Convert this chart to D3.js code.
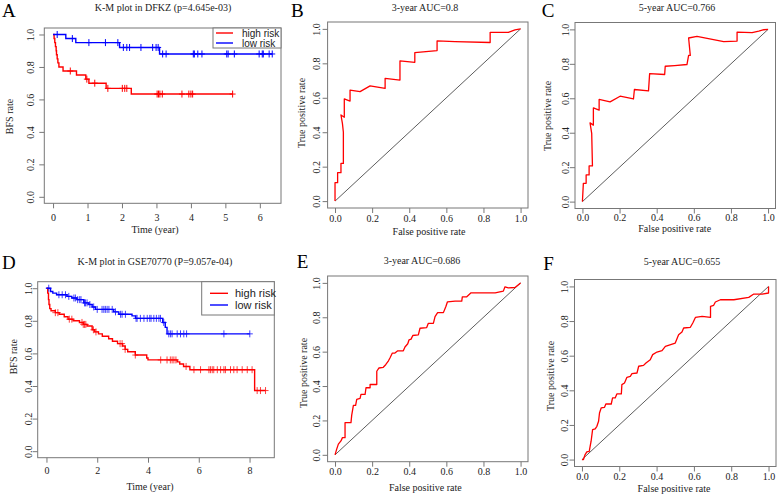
<!DOCTYPE html>
<html><head><meta charset="utf-8">
<script src="https://cdn.jsdelivr.net/npm/d3@7"></script>
<style>body{margin:0;background:#fff}</style>
</head><body>
<svg id="c" width="777" height="494" xmlns="http://www.w3.org/2000/svg"></svg>
<script>
// ---------------- DATA ----------------
const panelLetters = ["A","B","C","D","E","F"];
const panelTitles = ["K-M plot in DFKZ (p=4.645e-03)","3-year AUC=0.8","5-year AUC=0.766",
                     "K-M plot in GSE70770 (P=9.057e-04)","3-year AUC=0.686","5-year AUC=0.655"];
const legendLabels = ["high risk","low risk"];
const kmXTitle = "Time (year)", kmYTitle = "BFS rate";
const rocXTitle = "False positive rate", rocYTitle = "True positive rate";
const timeTicksA = [0,1,2,3,4,5,6];
const timeTicksD = [0,2,4,6,8];
const rateTicks = [0,0.2,0.4,0.6,0.8,1.0];
const diagonal = [[0,0],[1,1]];

// K-M, DFKZ: steps [time, survival], last time, censor times
const kmA_high = [[0,1],[0.03,0.975],[0.05,0.95],[0.07,0.925],[0.09,0.9],[0.1,0.875],[0.12,0.85],[0.14,0.825],[0.17,0.8],[0.29,0.775],[0.68,0.75],[0.95,0.725],[1.04,0.70],[1.54,0.668],[2.27,0.633]];
const kmA_highEnd = 5.21;
const kmA_highCens = [0.5,0.98,1.21,1.59,2.01,2.08,2.14,3.02,3.06,3.1,3.17,3.74,3.94,4.0,4.05,5.21];
const kmA_low = [[0,1],[0.37,0.975],[0.66,0.95],[1.93,0.92],[3.09,0.88]];
const kmA_lowEnd = 6.36;
const kmA_lowCens = [0.12,0.56,1.04,1.52,1.88,2.04,2.14,2.22,2.55,2.89,2.99,3.05,3.18,3.28,4.07,4.1,4.2,4.32,5.04,5.08,5.26,5.98,6.07,6.1,6.27,6.36];

// K-M, GSE70770
const kmD_high = [[0,1],[0.05,0.97],[0.08,0.93],[0.1,0.9],[0.13,0.875],[0.18,0.862],[0.35,0.85],[0.5,0.84],[0.7,0.825],[0.85,0.81],[1.05,0.80],[1.3,0.79],[1.45,0.778],[1.6,0.768],[1.8,0.745],[1.9,0.732],[2.05,0.72],[2.2,0.705],[2.45,0.69],[2.6,0.675],[2.8,0.66],[3.0,0.645],[3.1,0.625],[3.2,0.61],[3.5,0.59],[3.95,0.572],[4.0,0.56],[5.15,0.548],[5.25,0.535],[5.4,0.52],[5.65,0.50],[8.2,0.372]];
const kmD_highEnd = 8.63;
const kmD_highCens = [0.35,0.45,0.9,1.0,1.4,1.45,1.5,1.55,1.85,1.95,2.9,2.98,3.1,3.5,4.5,4.75,4.88,4.95,5.02,5.1,5.5,5.81,6.07,6.4,6.46,6.53,6.59,6.73,6.86,6.99,7.05,7.25,7.38,7.51,7.71,7.91,8.1,8.3,8.43,8.63];
const kmD_low = [[0,1],[0.16,0.98],[0.25,0.97],[0.4,0.96],[0.81,0.95],[1.0,0.94],[1.2,0.93],[1.47,0.91],[1.67,0.9],[1.8,0.885],[1.93,0.87],[2.65,0.855],[2.85,0.84],[3.37,0.83],[3.51,0.815],[4.58,0.79],[4.68,0.76],[4.75,0.72]];
const kmD_lowEnd = 8.01;
const kmD_lowCens = [0.09,0.49,0.62,0.75,0.88,1.08,1.14,1.23,1.31,1.36,1.5,1.54,1.6,1.71,1.86,2.0,2.19,2.26,2.32,2.39,2.46,2.59,2.72,2.92,2.98,3.11,3.53,3.57,3.7,3.84,3.97,4.07,4.12,4.23,4.33,4.43,4.49,4.62,4.82,4.89,4.95,5.15,5.28,5.41,5.52,6.99,8.01];

// ROC curves [FPR, TPR]
const rocB = [[0,0],[0,0.107],[0.014,0.107],[0.014,0.165],[0.032,0.165],[0.032,0.219],[0.045,0.219],[0.045,0.40],[0.04,0.45],[0.032,0.50],[0.05,0.487],[0.05,0.593],[0.081,0.581],[0.081,0.645],[0.135,0.636],[0.189,0.669],[0.27,0.655],[0.27,0.713],[0.35,0.703],[0.35,0.814],[0.43,0.806],[0.43,0.862],[0.49,0.868],[0.55,0.874],[0.55,0.93],[0.647,0.926],[0.836,0.921],[0.836,0.98],[0.934,0.98],[0.97,0.994],[1,1]];
const rocC = [[0,0],[0.005,0.106],[0.02,0.106],[0.02,0.155],[0.036,0.155],[0.036,0.207],[0.054,0.207],[0.05,0.396],[0.041,0.457],[0.059,0.444],[0.059,0.544],[0.09,0.531],[0.09,0.593],[0.149,0.579],[0.203,0.612],[0.275,0.596],[0.28,0.651],[0.356,0.643],[0.362,0.743],[0.443,0.738],[0.446,0.786],[0.497,0.79],[0.563,0.796],[0.572,0.849],[0.581,0.849],[0.572,0.95],[0.617,0.959],[0.761,0.929],[0.833,0.932],[0.833,0.984],[0.914,0.981],[0.95,0.99],[0.977,0.998],[1,1]];
const rocE = [[0,0],[0.009,0.033],[0.018,0.062],[0.032,0.081],[0.04,0.1],[0.054,0.1],[0.054,0.187],[0.086,0.187],[0.09,0.231],[0.099,0.287],[0.111,0.287],[0.117,0.322],[0.135,0.328],[0.14,0.351],[0.162,0.351],[0.167,0.39],[0.189,0.39],[0.189,0.409],[0.225,0.409],[0.225,0.486],[0.237,0.505],[0.26,0.509],[0.273,0.524],[0.288,0.547],[0.296,0.563],[0.309,0.592],[0.323,0.592],[0.338,0.605],[0.368,0.605],[0.377,0.627],[0.392,0.646],[0.399,0.669],[0.41,0.673],[0.419,0.694],[0.449,0.698],[0.458,0.736],[0.494,0.74],[0.503,0.765],[0.53,0.765],[0.539,0.804],[0.553,0.827],[0.584,0.827],[0.597,0.861],[0.606,0.89],[0.647,0.894],[0.683,0.894],[0.686,0.919],[0.71,0.919],[0.733,0.942],[0.863,0.942],[0.907,0.952],[0.916,0.977],[0.934,0.971],[0.97,0.973],[1,1]];
const rocF = [[0,0],[0.008,0.0],[0.017,0.029],[0.026,0.044],[0.039,0.048],[0.044,0.077],[0.049,0.106],[0.057,0.173],[0.071,0.177],[0.08,0.192],[0.089,0.221],[0.094,0.269],[0.103,0.298],[0.121,0.302],[0.128,0.321],[0.157,0.321],[0.164,0.356],[0.178,0.356],[0.187,0.379],[0.211,0.379],[0.214,0.433],[0.228,0.442],[0.241,0.475],[0.259,0.481],[0.268,0.496],[0.295,0.5],[0.304,0.539],[0.33,0.544],[0.343,0.558],[0.366,0.577],[0.379,0.606],[0.402,0.621],[0.429,0.629],[0.447,0.654],[0.5,0.673],[0.518,0.721],[0.536,0.737],[0.545,0.76],[0.581,0.764],[0.594,0.789],[0.608,0.821],[0.644,0.827],[0.689,0.821],[0.689,0.885],[0.706,0.891],[0.715,0.91],[0.742,0.923],[0.814,0.923],[0.894,0.937],[0.921,0.956],[0.966,0.956],[1.0,0.962],[1.0,1.0]];

// ---------------- DRAW ----------------
const svg = d3.select("#c");
const SERIF = "'Liberation Serif','Times New Roman',serif";
const SANS = "'Liberation Sans',Arial,sans-serif";
const RED = "#ff0000", BLUE = "#0000ff", FRAME = "#777";
const f1 = d3.format(".1f");

function panel(L){
  const x = d3.scaleLinear().domain(L.xd).range([L.box[0], L.box[1]]);
  const y = d3.scaleLinear().domain([-0.04,1.04]).range([L.box[3], L.box[2]]);
  const g = svg.append("g");
  // x axis
  const gx = g.append("g").attr("transform", `translate(0,${L.box[3]})`)
    .call(d3.axisBottom(x).tickValues(L.xt).tickSize(5).tickFormat(L.xf));
  gx.select(".domain").remove();
  gx.selectAll("line").attr("stroke", FRAME);
  gx.selectAll("text").attr("y", L.xLabY - L.box[3]).attr("dy","0.35em")
    .attr("fill","#222").style("font-family", SERIF).style("font-size","10px");
  // y axis
  const gy = g.append("g").attr("transform", `translate(${L.box[0]},0)`)
    .call(d3.axisLeft(y).tickValues(rateTicks).tickSize(5).tickFormat(f1));
  gy.select(".domain").remove();
  gy.selectAll("line").attr("stroke", FRAME);
  gy.selectAll("text").attr("x",0).attr("y",0).attr("dy","0.35em")
    .attr("transform", `translate(${L.yLabX - L.box[0]},0) rotate(-90)`)
    .attr("text-anchor","middle").attr("fill","#222")
    .style("font-family", SERIF).style("font-size","10px");
  // frame
  g.append("rect").attr("x",L.box[0]).attr("y",L.box[2])
    .attr("width",L.box[1]-L.box[0]).attr("height",L.box[3]-L.box[2])
    .attr("fill","none").attr("stroke",FRAME).attr("stroke-width",1);
  // titles
  g.append("text").attr("x",L.titleX).attr("y",L.titleY).attr("text-anchor","middle")
    .attr("fill","#222").style("font-family",SERIF).style("font-size","10px").text(L.title);
  g.append("text").attr("x",L.xTitleX).attr("y",L.xTitleY).attr("dy","0.35em").attr("text-anchor","middle")
    .attr("fill","#222").style("font-family",SERIF).style("font-size","10px").text(L.xTitle);
  g.append("text").attr("transform",`translate(${L.yTitleX},${L.yTitleY}) rotate(-90)`)
    .attr("dy","0.35em").attr("text-anchor","middle")
    .attr("fill","#222").style("font-family",SERIF).style("font-size","10px").text(L.yTitle);
  g.append("text").attr("x",L.letter[0]).attr("y",L.letter[1])
    .attr("fill","#000").style("font-family",SERIF).style("font-size","19px").text(L.letterText);
  return {g,x,y};
}

function kmCurve(P, steps, end, cens, color, op){
  const pts = steps.concat([[end, steps[steps.length-1][1]]]);
  const line = d3.line().x(d=>P.x(d[0])).y(d=>P.y(d[1])).curve(d3.curveStepAfter);
  P.g.append("path").attr("d", line(pts)).attr("fill","none").attr("stroke",color).attr("stroke-width",1.4);
  const surv = t => { let s = steps[0][1]; for (const d of steps) { if (d[0] <= t) s = d[1]; } return s; };
  const cg = P.g.append("g").attr("stroke",color).attr("stroke-width",1).attr("opacity",op);
  cens.forEach(t => {
    const cx = P.x(t), cy = P.y(surv(t));
    cg.append("line").attr("x1",cx).attr("x2",cx).attr("y1",cy-3.5).attr("y2",cy+3.5);
    cg.append("line").attr("x1",cx-3).attr("x2",cx+3).attr("y1",cy).attr("y2",cy);
  });
}

function legend(P, b, lx, ly, tx, fs){
  P.g.append("rect").attr("x",b[0]).attr("y",b[2]).attr("width",b[1]-b[0]).attr("height",b[3]-b[2])
    .attr("fill","#fff").attr("stroke",FRAME);
  [RED, BLUE].forEach((c,i) => {
    P.g.append("line").attr("x1",lx[0]).attr("x2",lx[1]).attr("y1",ly[i]).attr("y2",ly[i])
      .attr("stroke",c).attr("stroke-width",1.4);
    P.g.append("text").attr("x",tx).attr("y",ly[i]).attr("dy","0.35em").attr("fill","#222")
      .style("font-family",SANS).style("font-size",fs+"px").text(legendLabels[i]);
  });
}

function roc(P, pts){
  const line = d3.line().x(d=>P.x(d[0])).y(d=>P.y(d[1]));
  P.g.append("path").attr("d", line(diagonal)).attr("fill","none").attr("stroke","#333").attr("stroke-width",0.8);
  P.g.append("path").attr("d", line(pts)).attr("fill","none").attr("stroke",RED).attr("stroke-width",1.3)
    .attr("stroke-linejoin","round");
}

const rocX = [-0.04,1.04];
const fInt = d3.format("d");

// A
const A = panel({box:[44.3,281,28,203.3], xd:[-0.254,6.614], xt:timeTicksA, xf:fInt,
  xLabY:217.7, xTitleX:155, xTitleY:229, xTitle:kmXTitle, yLabX:30, yTitleX:9, yTitleY:116.5, yTitle:kmYTitle,
  titleX:163, titleY:10.5, title:panelTitles[0], letter:[2,17], letterText:panelLetters[0]});
kmCurve(A, kmA_high, kmA_highEnd, kmA_highCens, RED, 1);
kmCurve(A, kmA_low, kmA_lowEnd, kmA_lowCens, BLUE, 1);
legend(A, [213,281,28,48], [216,233], [33,43], 242, 10);

// B
const B = panel({box:[327.6,528,22,208], xd:rocX, xt:rateTicks, xf:f1,
  xLabY:218, xTitleX:429, xTitleY:231, xTitle:rocXTitle, yLabX:316.7, yTitleX:301.7, yTitleY:113, yTitle:rocYTitle,
  titleX:425, titleY:10.5, title:panelTitles[1], letter:[291,17], letterText:panelLetters[1]});
roc(B, rocB);

// C
const C = panel({box:[575,775.5,22.5,208.5], xd:rocX, xt:rateTicks, xf:f1,
  xLabY:217.7, xTitleX:674.7, xTitleY:228, xTitle:rocXTitle, yLabX:565, yTitleX:547.7, yTitleY:116, yTitle:rocYTitle,
  titleX:677, titleY:10.5, title:panelTitles[2], letter:[541.7,17], letterText:panelLetters[2]});
roc(C, rocC);

// D
const D = panel({box:[37.7,274.3,281.7,457.7], xd:[-0.345,8.975], xt:timeTicksD, xf:fInt,
  xLabY:470.7, xTitleX:150, xTitleY:486.7, xTitle:kmXTitle, yLabX:28.3, yTitleX:13.3, yTitleY:356.7, yTitle:kmYTitle,
  titleX:155, titleY:265, title:panelTitles[3], letter:[2,269], letterText:panelLetters[3]});
kmCurve(D, kmD_high, kmD_highEnd, kmD_highCens, RED, 0.75);
kmCurve(D, kmD_low, kmD_lowEnd, kmD_lowCens, BLUE, 0.75);
legend(D, [201.7,274.3,281.7,315], [210,228], [293.3,305], 235, 11);

// E
const E = panel({box:[327.6,528,276,461.7], xd:rocX, xt:rateTicks, xf:f1,
  xLabY:471.7, xTitleX:425.3, xTitleY:487.3, xTitle:rocXTitle, yLabX:316, yTitleX:303.3, yTitleY:373, yTitle:rocYTitle,
  titleX:422, titleY:263.5, title:panelTitles[4], letter:[296.7,268.3], letterText:panelLetters[4]});
roc(E, rocE);

// F
const F = panel({box:[574.5,776,279.5,466.5], xd:rocX, xt:rateTicks, xf:f1,
  xLabY:476.7, xTitleX:674, xTitleY:488.3, xTitle:rocXTitle, yLabX:564.3, yTitleX:550, yTitleY:376, yTitle:rocYTitle,
  titleX:682, titleY:265, title:panelTitles[5], letter:[543.3,270], letterText:panelLetters[5]});
roc(F, rocF);
</script>
</body></html>
